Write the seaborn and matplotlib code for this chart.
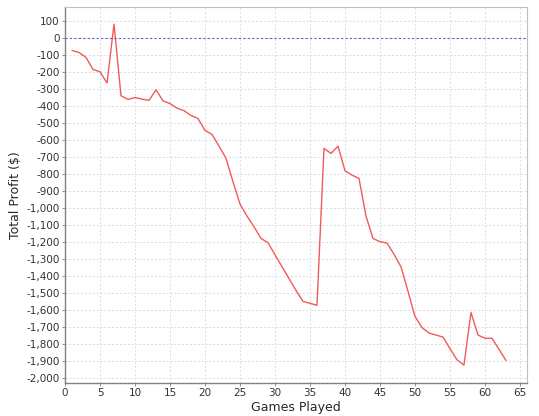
import matplotlib
matplotlib.use("Agg")
import matplotlib.pyplot as plt
import matplotlib.ticker as mticker
import seaborn as sns
import pandas as pd

# Dati
games = list(range(1, 64))
profit = [-71, -83, -112, -183, -197, -263, 84, -338, -360, -348,
          -358, -365, -303, -368, -384, -411, -426, -454, -472, -542,
          -566, -634, -707, -845, -976, -1047, -1110, -1179, -1204, -1275,
          -1345, -1415, -1485, -1550, -1561, -1573, -648, -678, -635, -780,
          -806, -825, -1047, -1179, -1198, -1206, -1272, -1346, -1490, -1638,
          -1704, -1736, -1748, -1760, -1828, -1894, -1925, -1615, -1748, -1767,
          -1767, -1832, -1898]

df = pd.DataFrame({"Games Played": games, "Total Profit ($)": profit})

sns.set_style("white")
plt.rcParams['font.family'] = ['DejaVu Sans']

fig = plt.figure(figsize=(5.39, 4.16), dpi=100)
ax = fig.add_axes([0.1206, 0.080, 0.8571, 0.9032])

sns.lineplot(data=df, x="Games Played", y="Total Profit ($)", ax=ax,
             color="#f05a5a", linewidth=1.0)
ax.axhline(0, color="#6060d0", linestyle=(0, (2, 2)), linewidth=0.8)

ax.set_xlim(0, 66)
ax.set_ylim(-2029, 185)
ax.xaxis.set_major_locator(mticker.MultipleLocator(5))
ax.yaxis.set_major_locator(mticker.MultipleLocator(100))
ax.yaxis.set_major_formatter(mticker.FuncFormatter(lambda v, p: f"{int(v):,}"))

ax.grid(True, color="#dcdcdc", linestyle=(0, (2, 2)), linewidth=0.7)
ax.set_axisbelow(True)

for s in ["top", "right"]:
    ax.spines[s].set_color("#c0c0c0")
    ax.spines[s].set_linewidth(0.8)
for s in ["left", "bottom"]:
    ax.spines[s].set_color("#808080")
    ax.spines[s].set_linewidth(1.0)

ax.tick_params(axis="both", labelsize=7.5, length=2, width=0.6,
               color="#808080", direction="out", pad=2, labelcolor="#333333")
ax.tick_params(axis="x", bottom=True)
ax.tick_params(axis="y", left=True)
ax.set_xlabel("Games Played", fontsize=9, labelpad=2)
ax.set_ylabel("Total Profit ($)", fontsize=9, labelpad=3)

fig.savefig("out.png", dpi=100)
